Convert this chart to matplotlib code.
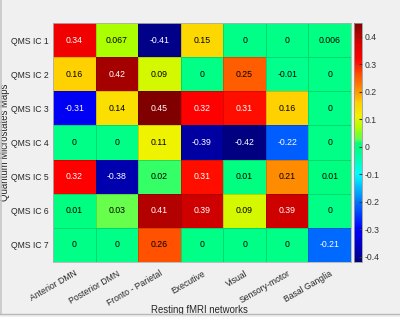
import numpy as np
import matplotlib
matplotlib.use("Agg")
import matplotlib.pyplot as plt
from matplotlib.colors import LinearSegmentedColormap, Normalize
from matplotlib.lines import Line2D

plt.rcParams['font.family'] = ['Liberation Sans', 'DejaVu Sans']

rows = ["QMS IC 1", "QMS IC 2", "QMS IC 3", "QMS IC 4", "QMS IC 5", "QMS IC 6", "QMS IC 7"]
cols = ["Anterior DMN", "Posterior DMN", "Fronto - Parietal", "Executive", "Visual",
        "Sensory-motor", "Basal Ganglia"]
ic1 = [0.34, 0.067, -0.41, 0.15, 0, 0, 0.006]
ic2 = [0.16, 0.42, 0.09, 0, 0.25, -0.01, 0]
ic3 = [-0.31, 0.14, 0.45, 0.32, 0.31, 0.16, 0]
ic4 = [0, 0, 0.11, -0.39, -0.42, -0.22, 0]
ic5 = [0.32, -0.38, 0.02, 0.31, 0.01, 0.21, 0.01]
ic6 = [0.01, 0.03, 0.41, 0.39, 0.09, 0.39, 0]
ic7 = [0, 0, 0.26, 0, 0, 0, -0.21]
cbar_ticks = [-0.4, -0.3, -0.2, -0.1, 0, 0.1, 0.2, 0.3, 0.4]

data = np.array([ic1, ic2, ic3, ic4, ic5, ic6, ic7])
vmin, vmax = data.min(), data.max()

anchors = [
    (-0.42, (0.0, 0.0, 0.5)),
    (-0.38, (0.0, 0.0, 0.70)),
    (-0.30, (0.0, 0.0, 1.0)),
    (-0.21, (0.0, 0.42, 1.0)),
    (-0.10, (0.0, 1.0, 1.0)),
    (-0.03, (0.0, 1.0, 0.6)),
    (0.01, (0.0, 1.0, 0.5)),
    (0.03, (0.4, 1.0, 0.3)),
    (0.067, (0.67, 1.0, 0.0)),
    (0.11, (0.95, 0.95, 0.0)),
    (0.16, (1.0, 0.82, 0.0)),
    (0.21, (1.0, 0.55, 0.0)),
    (0.26, (1.0, 0.33, 0.0)),
    (0.32, (1.0, 0.0, 0.0)),
    (0.39, (0.82, 0.0, 0.0)),
    (0.45, (0.5, 0.0, 0.0)),
]
cmap = LinearSegmentedColormap.from_list(
    "custom", [((v - vmin) / (vmax - vmin), c) for v, c in anchors])
norm = Normalize(vmin=vmin, vmax=vmax)

txt = (0.15, 0.15, 0.15)
bg = (0.94, 0.94, 0.94)
fig = plt.figure(figsize=(4.0, 3.17), dpi=100, facecolor=bg)

# window chrome: left edge and bottom separator
fig.add_artist(Line2D([0.002, 0.002], [0.01, 1.0], transform=fig.transFigure,
                      color=(0.78, 0.78, 0.78), lw=1.2))
fig.add_artist(Line2D([0, 1], [0.009, 0.009], transform=fig.transFigure,
                      color=(0.72, 0.72, 0.72), lw=1.0))

ax = fig.add_axes([0.1325, 0.1735, 0.745, 0.754])
ax.pcolormesh(np.arange(len(cols) + 1) - 0.5, np.arange(len(rows) + 1) - 0.5, data,
              cmap=cmap, norm=norm, edgecolor=(0, 0, 0, 0.15), linewidth=0.6)
ax.set_xlim(-0.5, len(cols) - 0.5)
ax.set_ylim(len(rows) - 0.5, -0.5)

for i in range(len(rows)):
    for j in range(len(cols)):
        v = data[i, j]
        tc = 'white' if (v > 0.28 or v < -0.15) else 'black'
        ax.text(j, i, f"{v:g}", ha='center', va='center', fontsize=6.3, color=tc)

ax.set_xticks(range(len(cols)))
ax.set_xticklabels(cols, rotation=30, ha='right', rotation_mode='anchor', fontsize=6.2,
                   color=txt)
ax.set_yticks(range(len(rows)))
ax.set_yticklabels(rows, fontsize=6.2, color=txt)
ax.tick_params(axis='y', length=0, pad=3)
ax.tick_params(axis='x', length=0, pad=5)
for s in ax.spines.values():
    s.set_color((0.7, 0.7, 0.7))
    s.set_linewidth(0.6)

ax.set_xlabel("Resting fMRI networks", fontsize=6.9, color=txt)
ax.xaxis.set_label_coords(0.49, -0.178)
ax.set_ylabel("Quantum Microstates Maps", fontsize=6.9, color=txt)
ax.yaxis.set_label_coords(-0.145, 0.5)

cax = fig.add_axes([0.885, 0.1735, 0.02, 0.754])
cb = fig.colorbar(matplotlib.cm.ScalarMappable(norm=norm, cmap=cmap), cax=cax)
cb.set_ticks(cbar_ticks)
cb.set_ticklabels([f"{t:g}" for t in cbar_ticks])
cax.tick_params(labelsize=6.2, length=2, direction='in', colors=(0.2, 0.2, 0.2), pad=2)
cb.outline.set_edgecolor((0.6, 0.6, 0.6))
cb.outline.set_linewidth(0.6)

fig.savefig("out.png", dpi=100, facecolor=bg)
